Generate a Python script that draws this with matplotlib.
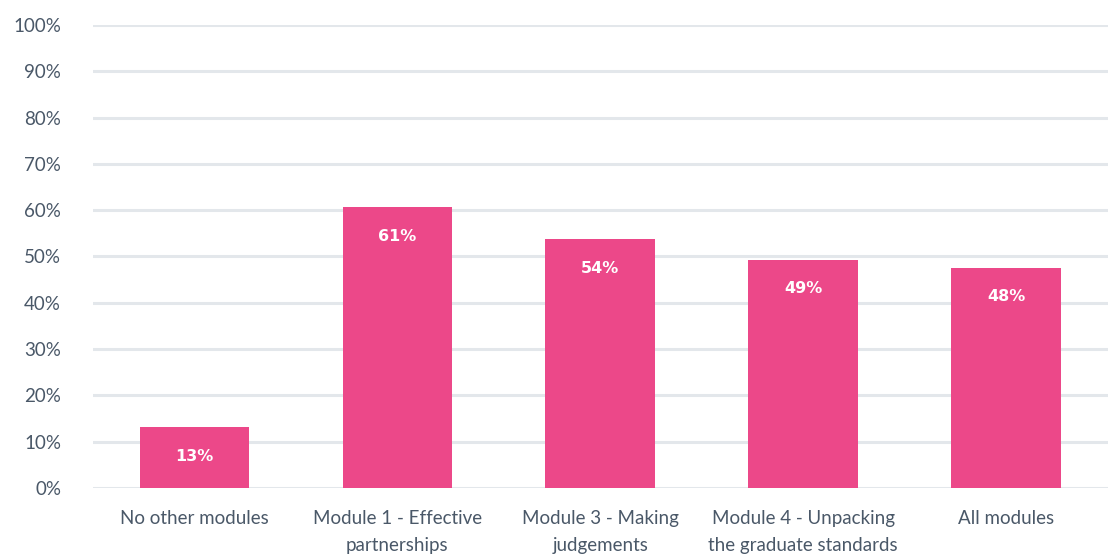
import matplotlib
matplotlib.use("Agg")
import matplotlib.pyplot as plt

categories = [
    "No other modules",
    "Module 1 - Effective\npartnerships",
    "Module 3 - Making\njudgements",
    "Module 4 - Unpacking\nthe graduate standards",
    "All modules",
]
values = [13.2, 60.6, 53.7, 49.3, 47.6]
labels = ["13%", "61%", "54%", "49%", "48%"]
yticks = list(range(0, 101, 10))

bar_color = "#ec4889"
text_color = "#4a5868"
grid_color = "#e3e7eb"

fig = plt.figure(figsize=(11.12, 5.57), dpi=100, facecolor="white")
ax = fig.add_axes([0.0836, 0.124, 0.9124, 0.831])

x = list(range(len(categories)))
bars = ax.bar(x, values, width=0.54, color=bar_color, zorder=3)

# thin light line under each bar, like in the original
for bar in bars:
    ax.plot([bar.get_x(), bar.get_x() + bar.get_width()], [-0.35, -0.35],
            color="#f08cb4", lw=1.5, zorder=4, solid_capstyle="butt")

for bar, lab in zip(bars, labels):
    ax.annotate(lab, xy=(bar.get_x() + bar.get_width() / 2, bar.get_height()),
                xytext=(0, -21), textcoords="offset points",
                ha="center", va="center", color="white",
                fontsize=11.5, fontweight="bold", family="DejaVu Sans", zorder=5)

ax.set_xlim(-0.5, len(categories) - 0.5)
ax.set_ylim(0, 100)
ax.set_yticks(yticks)
ax.set_yticklabels([f"{t}%" for t in yticks])
ax.set_xticks(x)
ax.set_xticklabels(categories, linespacing=1.7)

ax.grid(True, axis="y", color=grid_color, lw=2.2, zorder=0)
ax.set_axisbelow(True)
for spine in ax.spines.values():
    spine.set_visible(False)
ax.tick_params(axis="y", length=0, pad=23, labelsize=13.5, colors=text_color)
ax.tick_params(axis="x", length=0, pad=16, labelsize=13.5, colors=text_color)
for t in ax.get_xticklabels() + ax.get_yticklabels():
    t.set_family("Lato")
    t.set_verticalalignment("top")
for t in ax.get_yticklabels():
    t.set_verticalalignment("center_baseline")

fig.savefig("out.png", dpi=100, facecolor="white")
